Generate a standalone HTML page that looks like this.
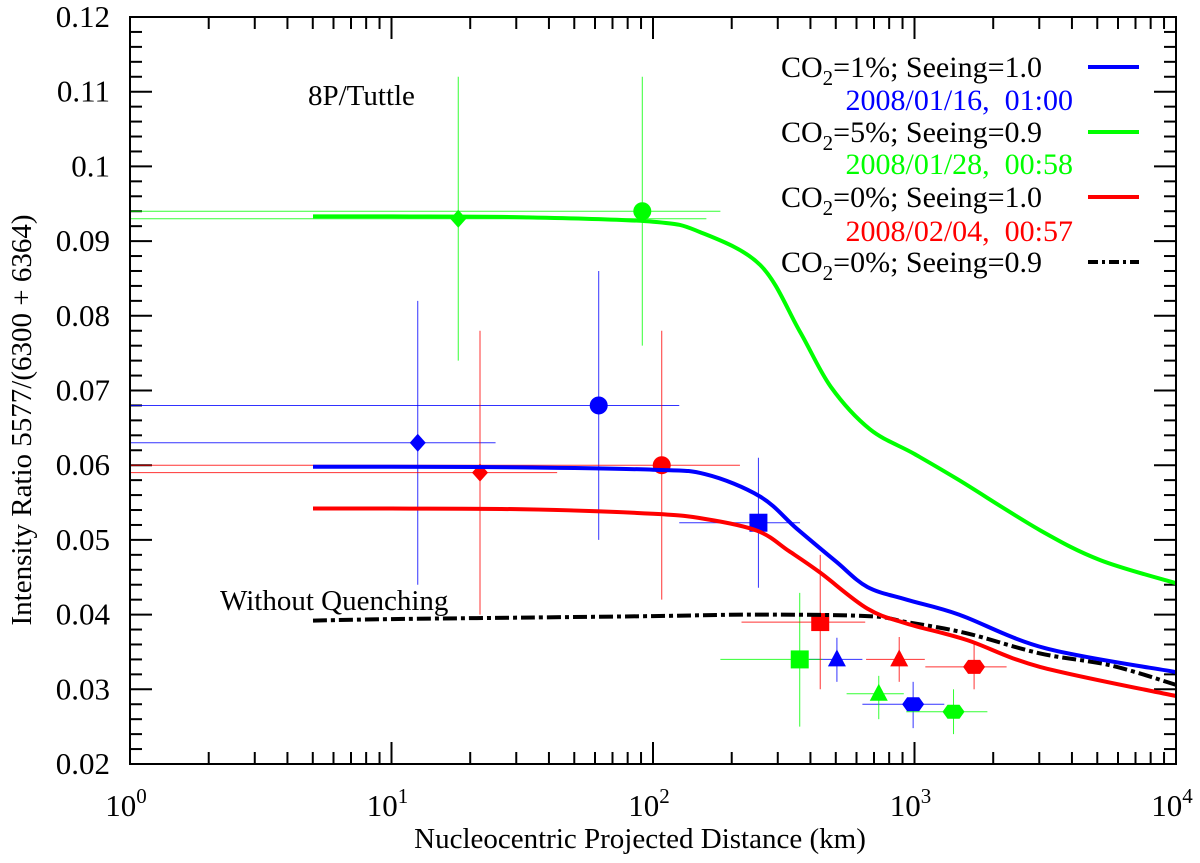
<!DOCTYPE html>
<html><head><meta charset="utf-8"><style>
body{margin:0;background:#fff}
svg, svg text, svg tspan{font-family:"Liberation Serif","DejaVu Serif",serif}
</style></head><body>
<svg id="chart" width="1200" height="858" xmlns="http://www.w3.org/2000/svg" font-family="Liberation Serif, serif"></svg>
<script>
const xTicks=[0,1,2,3,4];
const yTicks=[0.02,0.03,0.04,0.05,0.06,0.07,0.08,0.09,0.1,0.11,0.12];
const yTickLabels=["0.02","0.03","0.04","0.05","0.06","0.07","0.08","0.09","0.1","0.11","0.12"];
const curveLogX=[0.7,1,1.5,2,2.18,2.41,2.56,2.68,2.83,3.0,3.17,3.48,3.71,4];
const greenCurve=[0.0933,0.0933,0.0932,0.0926,0.0912,0.0868,0.078,0.0705,0.0648,0.0615,0.058,0.0513,0.0473,0.0442];
const blueLogX=[0.7,1,1.5,2,2.2,2.41,2.55,2.7,2.82,2.97,3.17,3.5,4];
const blueCurve=[0.0598,0.0598,0.0597,0.0594,0.0588,0.0558,0.0515,0.0471,0.0437,0.042,0.040,0.0355,0.0323];
const redLogX=[0.7,1,1.5,2,2.2,2.4,2.52,2.64,2.82,2.97,3.2,3.48,4];
const redCurve=[0.0542,0.0542,0.0541,0.0535,0.0528,0.0512,0.0485,0.0456,0.0408,0.0388,0.0366,0.033,0.0291];
const blackLogX=[0.7,1,1.5,2,2.4,2.82,2.97,3.2,3.48,3.75,4];
const blackCurve=[0.0392,0.0394,0.0396,0.0398,0.040,0.0398,0.039,0.0375,0.0348,0.0332,0.0306];
const ptX=[12.6,62,253,505,988, 18,91,364,730,1410, 21.8,108,436,874,1690];
const ptY=[0.063,0.068,0.0523,0.034,0.028, 0.093,0.094,0.034,0.0294,0.027, 0.059,0.060,0.039,0.034,0.033];
const ptXlo=[1,1,126,395,632, 1,1,181,550,930, 1,1,218,653,1100];
const ptXhi=[25,126,365,632,1300, 160,181,444,910,1900, 43,215,648,1095,2250];
const ptYlo=[0.044,0.050,0.0436,0.031,0.0248, 0.074,0.076,0.025,0.026,0.024, 0.040,0.042,0.030,0.031,0.030];
const ptYhi=[0.082,0.086,0.061,0.0369,0.031, 0.112,0.112,0.0429,0.0318,0.030, 0.078,0.078,0.048,0.037,0.036];
const ptColor=["blue","blue","blue","blue","blue","green","green","green","green","green","red","red","red","red","red"];
const ptShape=["diamond","circle","square","triangle","hexagon","diamond","circle","square","triangle","hexagon","diamond","circle","square","triangle","hexagon"];

const L=130,R=1176,T=17,B=764;
const X=lx=>L+(lx-0)/4*(R-L);
const Y=v=>B-(v-0.02)/0.1*(B-T);
const COL={blue:"#0000ff",green:"#00ff00",red:"#ff0000"};
const NS="http://www.w3.org/2000/svg";
const svg=document.getElementById('chart');
function mk(tag,attrs,parent){const e=document.createElementNS(NS,tag);for(const k in attrs)e.setAttribute(k,attrs[k]);(parent||svg).appendChild(e);return e;}
const FF="Liberation Serif, serif";

const tg=mk('g',{stroke:'#000','stroke-width':2});


for(let d=0;d<4;d++){for(let m=1;m<10;m++){const x=X(d+Math.log10(m));const len=m==1?22:12;
 mk('line',{x1:x,x2:x,y1:B,y2:B-len},tg);mk('line',{x1:x,x2:x,y1:T,y2:T+len},tg);}}
for(let i=0;i<=50;i++){const v=0.02+i*0.002;const y=Y(v);const len=(i%5==0)?22:12;
 mk('line',{x1:L,x2:L+len,y1:y,y2:y},tg);mk('line',{x1:R,x2:R-len,y1:y,y2:y},tg);}
xTicks.forEach(p=>{const t=mk('text',{x:X(p)-4,y:816,'font-size':31,'text-anchor':'middle','font-family':FF});
 
 t.innerHTML='10<tspan dy="-13" font-size="21">'+p+'</tspan>';});
yTicks.forEach((v,i)=>{const t=mk('text',{x:110,y:Y(v)+10,'font-size':31,'text-anchor':'end','font-family':FF});
 t.textContent=yTickLabels[i];});

ptX.forEach((x,i)=>{const c=COL[ptColor[i]];const g=mk('g',{});
 
 
 const px=X(Math.log10(x)),py=Y(ptY[i]);
 mk('line',{x1:X(Math.log10(ptXlo[i])),x2:X(Math.log10(ptXhi[i])),y1:py,y2:py,stroke:c,'stroke-width':1,opacity:0.8},g);
 mk('line',{x1:px,x2:px,y1:Y(ptYlo[i]),y2:Y(ptYhi[i]),stroke:c,'stroke-width':1,opacity:0.8},g);
 const s=ptShape[i];
 if(s=='circle')mk('circle',{cx:px,cy:py,r:9,fill:c},g);
 else if(s=='square')mk('rect',{x:px-9,y:py-9,width:18,height:18,fill:c},g);
 else if(s=='diamond')mk('polygon',{points:`${px},${py-9} ${px+8},${py} ${px},${py+9} ${px-8},${py}`,fill:c},g);
 else if(s=='triangle')mk('polygon',{points:`${px},${py-10} ${px+9},${py+7} ${px-9},${py+7}`,fill:c},g);
 else mk('polygon',{points:`${px-11},${py} ${px-6},${py-7} ${px+6},${py-7} ${px+11},${py} ${px+6},${py+7} ${px-6},${py+7}`,fill:c},g);
});

function curve(lx,vals,stroke,name,dash){
 const P=lx.map((l,i)=>[X(l),Y(vals[i])]);
 let d='M'+P[0][0].toFixed(1)+','+P[0][1].toFixed(1);
 for(let i=0;i<P.length-1;i++){const p0=P[i-1]||P[i],p1=P[i],p2=P[i+1],p3=P[i+2]||P[i+1];
  const c1=[p1[0]+(p2[0]-p0[0])/6,p1[1]+(p2[1]-p0[1])/6],c2=[p2[0]-(p3[0]-p1[0])/6,p2[1]-(p3[1]-p1[1])/6];
  d+=`C${c1[0].toFixed(1)},${c1[1].toFixed(1)} ${c2[0].toFixed(1)},${c2[1].toFixed(1)} ${p2[0].toFixed(1)},${p2[1].toFixed(1)}`;}
 const p=mk('path',{d:d,fill:'none',stroke:stroke,'stroke-width':4,'stroke-linejoin':'round'});
 if(dash)p.setAttribute('stroke-dasharray',dash);
 }
curve(blackLogX,blackCurve,'#000','curve-co2-0-seeing-0.9','14,4,4,4');
curve(redLogX,redCurve,COL.red,'curve-co2-0-seeing-1.0');
curve(blueLogX,blueCurve,COL.blue,'curve-co2-1-seeing-1.0');
curve(curveLogX,greenCurve,COL.green,'curve-co2-5-seeing-0.9');

const f=mk('rect',{x:L,y:T,width:R-L,height:B-T,fill:'none',stroke:'#000','stroke-width':2});


let t=mk('text',{x:308,y:105,'font-size':29,'font-family':FF});t.textContent='8P/Tuttle';

t=mk('text',{x:220,y:610,'font-size':29,'font-family':FF});t.textContent='Without Quenching';

t=mk('text',{x:640,y:848,'font-size':29,'text-anchor':'middle','font-family':FF});t.textContent='Nucleocentric Projected Distance (km)';

t=mk('text',{x:0,y:0,'font-size':29,'text-anchor':'middle','font-family':FF,transform:'translate(31,420) rotate(-90)'});t.textContent='Intensity Ratio 5577/(6300 + 6364)';


const leg=[["1","1.0",COL.blue,"2008/01/16,\u00a0\u00a001:00",77,110,null],["5","0.9",COL.green,"2008/01/28,\u00a0\u00a000:58",142,174,null],["0","1.0",COL.red,"2008/02/04,\u00a0\u00a000:57",207,241,null],["0","0.9","#000",null,272,0,'10,4,3,4']];
leg.forEach(r=>{const g=mk('g',{});
 const tt=mk('text',{x:1042,y:r[4],'font-size':30,'text-anchor':'end','font-family':FF},g);
 tt.innerHTML='CO<tspan dy="8" font-size="21">2</tspan><tspan dy="-8">='+r[0]+'%; Seeing='+r[1]+'</tspan>';
 const ln=mk('line',{x1:1088,x2:1139,y1:r[4]-10,y2:r[4]-10,stroke:r[2],'stroke-width':4},g);
 if(r[6])ln.setAttribute('stroke-dasharray',r[6]);
 if(r[3]){const d=mk('text',{x:1073,y:r[5],'font-size':30,'text-anchor':'end',fill:r[2],'font-family':FF},g);d.textContent=r[3];}
});
</script>
</body></html>
